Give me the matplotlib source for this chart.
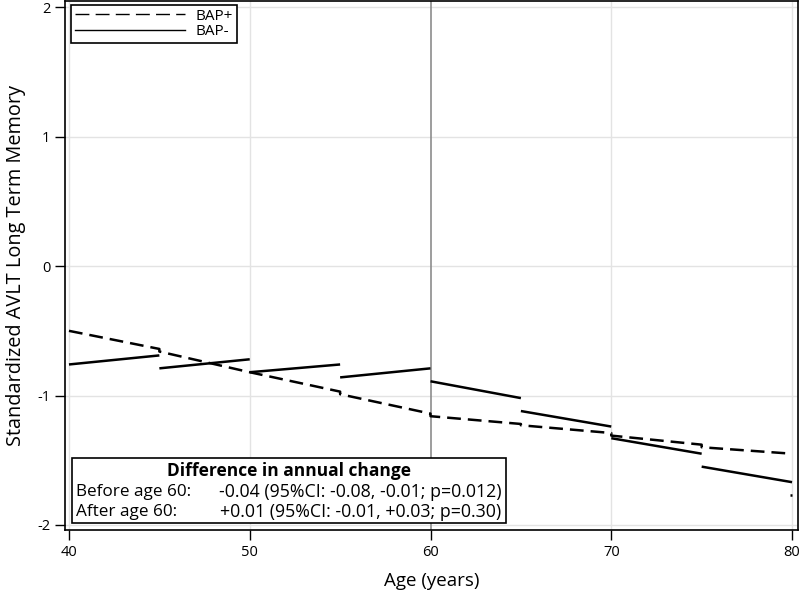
import matplotlib
matplotlib.use("Agg")
import matplotlib.pyplot as plt
from matplotlib.patches import Rectangle
from matplotlib.lines import Line2D

plt.rcParams['font.family'] = ['Open Sans', 'DejaVu Sans']
plt.rcParams['axes.unicode_minus'] = False

# piecewise segments, 5-year bins
ages_start = [40, 45, 50, 55, 60, 65, 70, 75]
ages_end = [45, 50, 55, 60, 65, 70, 75, 80]
bap_pos_start = [-0.50, -0.66, -0.82, -0.99, -1.16, -1.23, -1.31, -1.40]
bap_pos_end = [-0.64, -0.82, -0.97, -1.14, -1.22, -1.29, -1.38, -1.45]
bap_neg_start = [-0.76, -0.79, -0.82, -0.86, -0.89, -1.12, -1.33, -1.55]
bap_neg_end = [-0.69, -0.72, -0.76, -0.79, -1.02, -1.24, -1.45, -1.67]
bap_neg_last = -1.77

x_ticks = [40, 50, 60, 70, 80]
y_ticks = [-2, -1, 0, 1, 2]

box_title = "Difference in annual change"
box_rows = [("Before age 60:", "-0.04 (95%CI: -0.08, -0.01; p=0.012)"),
            ("After age 60:", "+0.01 (95%CI: -0.01, +0.03; p=0.30)")]

fig = plt.figure(figsize=(8, 5.94), dpi=100)
ax = fig.add_axes([0.08125, 0.1077, 0.91625, 0.8906])

ax.set_xlim(39.78, 80.33)
ax.set_ylim(-2.04, 2.05)

for v in x_ticks:
    if v != 60:
        ax.axvline(v, color='#e3e3e3', lw=1, zorder=0)
for v in y_ticks:
    ax.axhline(v, color='#e3e3e3', lw=1, zorder=0)
ax.axvline(60, color='#8c8c8c', lw=1.2, zorder=1)

# BAP+ dashed, one polyline with small jumps
xs, ys = [], []
for a, b, s, e in zip(ages_start, ages_end, bap_pos_start, bap_pos_end):
    xs += [a, b]
    ys += [s, e]
ax.plot(xs, ys, color='black', lw=1.8, dashes=(5.5, 2.8), zorder=3)

# BAP- solid segments
for a, b, s, e in zip(ages_start, ages_end, bap_neg_start, bap_neg_end):
    ax.plot([a, b], [s, e], color='black', lw=1.8, solid_capstyle='butt', zorder=3)
ax.plot([79.9, 80], [bap_neg_last, bap_neg_last], color='black', lw=1.8,
        solid_capstyle='butt', zorder=3)

ax.set_xticks(x_ticks)
ax.set_yticks(y_ticks)
ax.tick_params(direction='out', length=7, width=1, labelsize=10.5, colors='black')
for sp in ax.spines.values():
    sp.set_linewidth(1.2)

ax.set_xlabel("Age (years)", fontsize=13.5, labelpad=9)
ax.set_ylabel("Standardized AVLT Long Term Memory", fontsize=14.3, labelpad=8)

handles = [Line2D([0], [0], color='black', lw=1, dashes=(10, 4.5)),
           Line2D([0], [0], color='black', lw=1)]
leg = ax.legend(handles, ["BAP+", "BAP-"], loc='upper left',
                bbox_to_anchor=(0.008, 0.993), fontsize=11, handlelength=7.2,
                handletextpad=0.7, borderpad=0.25, labelspacing=0.05,
                borderaxespad=0, fancybox=False, framealpha=1, edgecolor='black')
leg.get_frame().set_linewidth(1.2)

# annotation box
bx0, bx1, by0, by1 = 0.0095, 0.6016, 0.0132, 0.136
ax.add_patch(Rectangle((bx0, by0), bx1 - bx0, by1 - by0, transform=ax.transAxes,
                       facecolor='white', edgecolor='black', lw=1.2, zorder=5))
ax.text((bx0 + bx1) / 2, 0.111, box_title, transform=ax.transAxes,
        ha='center', va='center', fontsize=12.5, fontweight='bold', zorder=6)
for i, (lab, val) in enumerate(box_rows):
    yy = 0.072 - i * 0.038
    ax.text(bx0 + 0.006, yy, lab, transform=ax.transAxes, ha='left',
            va='center', fontsize=12.3, zorder=6)
    ax.text(bx1 - 0.006, yy, val, transform=ax.transAxes, ha='right',
            va='center', fontsize=12.8, zorder=6)

fig.savefig("out.png", dpi=100)
